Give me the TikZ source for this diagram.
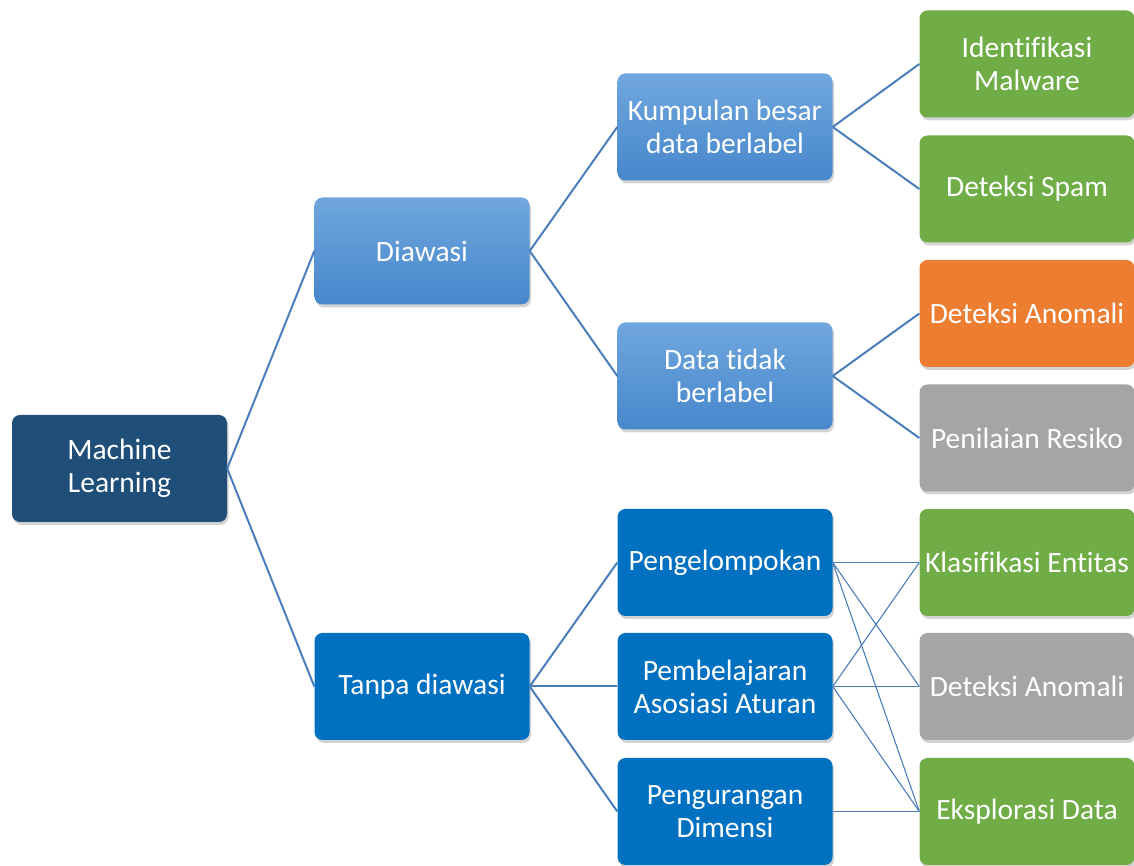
\documentclass[tikz,border=0pt]{standalone}
\usepackage{fontspec}
\setmainfont[Ligatures={NoCommon}]{Carlito}
\usetikzlibrary{shadows}
\definecolor{mlblue}{HTML}{1F4E79}
\definecolor{lbtop}{HTML}{70A7DE}
\definecolor{lbbot}{HTML}{4787CC}
\definecolor{solidblue}{HTML}{0070C0}
\definecolor{leafgreen}{HTML}{70AD47}
\definecolor{leaforange}{HTML}{ED7D31}
\definecolor{leafgrey}{HTML}{A5A5A5}
\definecolor{linkblue}{HTML}{4A7EBB}
\tikzset{
  box/.style={rounded corners=8pt, minimum width=215pt, minimum height=107pt,
    inner sep=2pt, align=center, text=white,
    font=\fontsize{29.5}{33}\selectfont,
    drop shadow={opacity=0.35, shadow xshift=1.5pt, shadow yshift=-3pt}},
  rootbox/.style={box, fill=mlblue},
  lightbox/.style={box, top color=lbtop, bottom color=lbbot},
  darkbox/.style={box, fill=solidblue},
  greenbox/.style={box, fill=leafgreen},
  orangebox/.style={box, fill=leaforange},
  greybox/.style={box, fill=leafgrey},
  link/.style={draw=linkblue, line width=2pt},
  midlink/.style={draw=linkblue, line width=1.5pt},
  thinlink/.style={draw=linkblue, line width=1.1pt},
}
\begin{document}
\begin{tikzpicture}[x=1pt,y=1pt]
\useasboundingbox (0,0) rectangle (1134,866);
% root
\node[rootbox] (ml) at (119.5,397.5) {Machine\\Learning};
% second level
\node[lightbox] (sup) at (422,615) {Diawasi};
\node[darkbox] (unsup) at (422,179.5) {Tanpa diawasi};
% third level
\node[lightbox] (big) at (725,739) {Kumpulan besar\\data berlabel};
\node[lightbox] (unl) at (725,490) {Data tidak\\berlabel};
\node[darkbox] (clu) at (725,303.5) {Pengelompokan};
\node[darkbox] (asr) at (725,179.5) {Pembelajaran\\Asosiasi Aturan};
\node[darkbox] (dim) at (725,54.5) {Pengurangan\\Dimensi};
% leaves
\node[greenbox] (mal) at (1027,802) {Identifikasi\\Malware};
\node[greenbox] (spam) at (1027,677) {Deteksi Spam};
\node[orangebox] (anoA) at (1027,552.5) {Deteksi Anomali};
\node[greybox] (risk) at (1027,428) {Penilaian Resiko};
\node[greenbox] (ent) at (1027,303.5) {Klasifikasi Entitas};
\node[greybox] (anoB) at (1027,179.5) {Deteksi Anomali};
\node[greenbox] (expl) at (1027,54.5) {Eksplorasi Data};
% tree links
\draw[link] (ml.east) -- (sup.west);
\draw[link] (ml.east) -- (unsup.west);
\draw[link] (sup.east) -- (big.west);
\draw[link] (sup.east) -- (unl.west);
\draw[link] (big.east) -- (mal.west);
\draw[link] (big.east) -- (spam.west);
\draw[link] (unl.east) -- (anoA.west);
\draw[link] (unl.east) -- (risk.west);
\draw[link] (unsup.east) -- (clu.west);
\draw[link] (unsup.east) -- (asr.west);
\draw[link] (unsup.east) -- (dim.west);
% many-to-many links
\draw[midlink] (clu.east) -- (ent.west);
\draw[thinlink] (clu.east) -- (anoB.west);
\draw[thinlink] (clu.east) -- (expl.west);
\draw[thinlink] (asr.east) -- (ent.west);
\draw[midlink] (asr.east) -- (anoB.west);
\draw[thinlink] (asr.east) -- (expl.west);
\draw[midlink] (dim.east) -- (expl.west);
\end{tikzpicture}
\end{document}
